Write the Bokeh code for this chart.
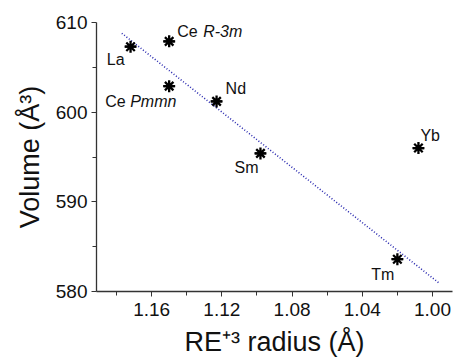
from bokeh.plotting import figure
from bokeh.models import Range1d, FixedTicker, ColumnDataSource, CustomJSTickFormatter
from bokeh.core.properties import value
from bokeh.embed import file_html
from bokeh.resources import INLINE

# data
names = ["La", "Ce", "Ce", "Nd", "Sm", "Yb", "Tm"]
phases = ["", "R-3m", "Pmmn", "", "", "", ""]
radius = [1.172, 1.150, 1.150, 1.123, 1.098, 1.008, 1.020]
volume = [607.3, 607.9, 602.9, 601.2, 595.4, 596.0, 583.6]
fit_x = [1.177, 0.996]
fit_y = [608.8, 580.9]
x_ticks = [1.16, 1.12, 1.08, 1.04, 1.00]
y_ticks = [580, 590, 600, 610]

# label placement (screen px offsets, style only)
name_dx = [-6, 8, -64, 9, -2, 2, -3]
name_dy = [13, -10, 15, -13, 14, -13, 15]
name_align = ["right", "left", "left", "left", "right", "left", "right"]
phase_dx = [0, 34, -39, 0, 0, 0, 0]

FONT = "Liberation Sans"

p = figure(width=453, height=361, output_backend="svg", toolbar_location=None,
           x_range=Range1d(1.1914, 0.9886), y_range=Range1d(580, 610),
           min_border_left=96, min_border_right=1, min_border_top=22, min_border_bottom=70)
p.outline_line_color = None
p.grid.visible = False
p.background_fill_color = "white"
p.border_fill_color = "white"

p.xaxis.ticker = FixedTicker(ticks=x_ticks, minor_ticks=[1.18, 1.14, 1.10, 1.06, 1.02])
p.yaxis.ticker = FixedTicker(ticks=y_ticks, minor_ticks=[585, 595, 605])
for ax in (p.xaxis, p.yaxis):
    ax.axis_line_color = "#333333"
    ax.axis_line_width = 1.3
    ax.major_tick_line_color = "#333333"
    ax.minor_tick_line_color = "#333333"
    ax.major_tick_out = 5
    ax.major_tick_in = 0
    ax.minor_tick_out = 4
    ax.minor_tick_in = 0
    ax.major_label_text_font = FONT
    ax.major_label_text_font_size = "19px"
    ax.major_label_text_color = "#111111"
    ax.axis_label_text_font = FONT
    ax.axis_label_text_font_size = "27px"
    ax.axis_label_text_font_style = "normal"
    ax.axis_label_text_color = "#111111"
p.xaxis.formatter = CustomJSTickFormatter(code="return tick.toFixed(2);")
p.xaxis.major_label_standoff = 6
p.yaxis.major_label_standoff = 4
p.xaxis.axis_label = "RE\u207a\u00b3 radius (\u00c5)"
p.yaxis.axis_label = "Volume (\u00c5\u00b3)"
p.xaxis.axis_label_standoff = 8
p.yaxis.axis_label_standoff = 8

p.line(fit_x, fit_y, line_color="#2a2ab0", line_width=1.6, line_dash="1 2")

src = ColumnDataSource(dict(x=radius, y=volume, name=names, phase=phases,
                            ndx=name_dx, ndy=name_dy, na=name_align, pdx=phase_dx))
p.scatter("x", "y", source=src, marker="asterisk", size=12, line_color="black", line_width=2.3)
p.scatter("x", "y", source=src, marker="dash", size=11, line_color="black", line_width=2.3)

p.text("x", "y", text="name", source=src, x_offset="ndx", y_offset="ndy",
       text_align="na", text_baseline="middle", text_font=value(FONT),
       text_font_size="16px", text_color="#111111")
p.text("x", "y", text="phase", source=src, x_offset="pdx", y_offset="ndy",
       text_align="left", text_baseline="middle", text_font=value(FONT),
       text_font_size="16px", text_font_style="italic", text_color="#111111")

open("out.html", "w").write(file_html(p, INLINE))
